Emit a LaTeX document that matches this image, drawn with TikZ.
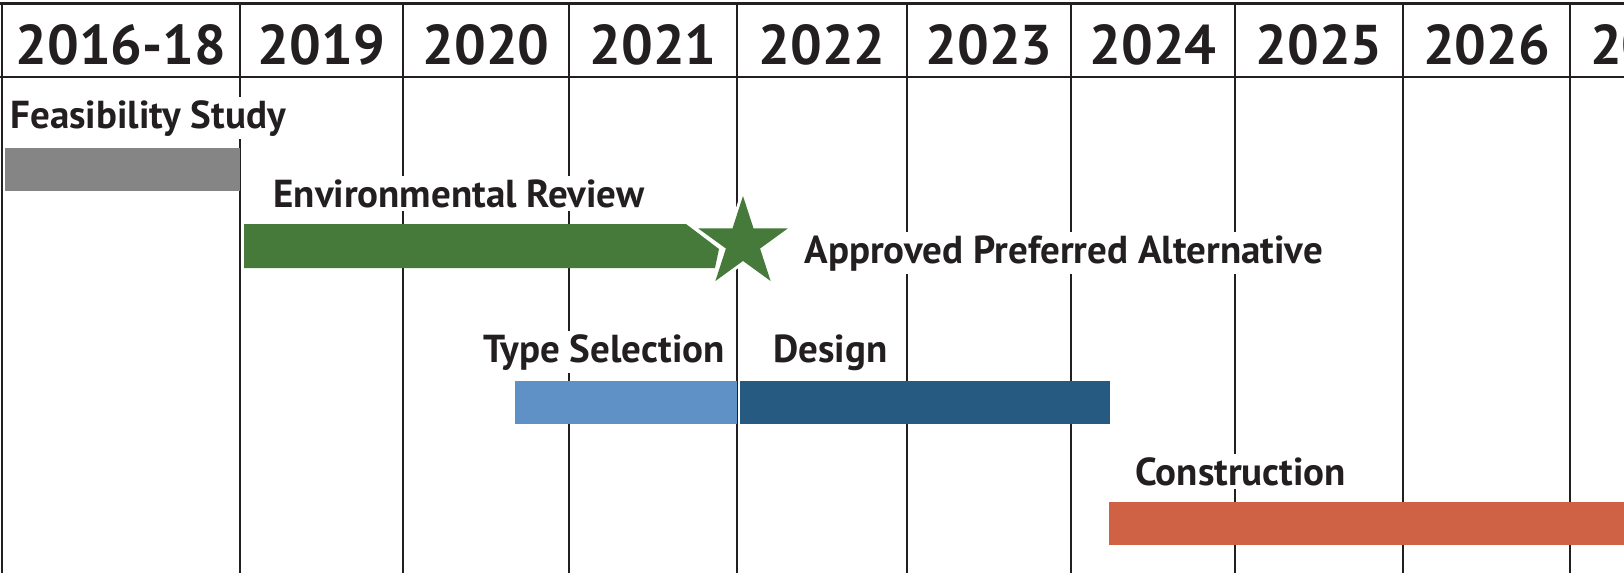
\documentclass[tikz,border=0pt]{standalone}
\usepackage{fontspec}
\setmainfont{PT Sans}
\usetikzlibrary{shapes.geometric}
\definecolor{inkline}{HTML}{231F20}
\definecolor{feasgray}{HTML}{858585}
\definecolor{envgreen}{HTML}{467A3B}
\definecolor{typeblue}{HTML}{5F91C6}
\definecolor{designblue}{HTML}{275A80}
\definecolor{buildorange}{HTML}{CF6245}

\begin{document}
\begin{tikzpicture}[x=0.5pt, y=-0.5pt,
    gridline/.style={draw=inkline, line width=1pt},
    year/.style={anchor=base, inner sep=0pt, text=inkline, font=\fontsize{28}{30}\selectfont\bfseries},
    phase/.style={anchor=base west, fill=white, inner sep=1.5pt, text=inkline, font=\fontsize{19.5}{22}\selectfont\bfseries},
    milestone/.style={star, star points=5, star point ratio=2.618, minimum size=47pt, inner sep=0pt,
        fill=envgreen, preaction={draw=white, line width=3pt, line join=round}}
]
\useasboundingbox[fill=white] (0,0) rectangle (1624,573);

% grid
\foreach \gx in {2,240,403,569,737,907,1071,1235,1403,1570}
    \draw[gridline] (\gx,3) -- (\gx,573);
\draw[gridline, line width=1.5pt] (0,3) -- (1624,3);
\draw[gridline, line width=1.25pt] (0,77) -- (1624,77);

% year headings
\foreach \xa/\xb/\yr in {2/240/2016-18, 240/403/2019, 403/569/2020, 569/737/2021, 737/907/2022,
        907/1071/2023, 1071/1235/2024, 1235/1403/2025, 1403/1570/2026, 1570/1737/2027}
    \node[year] (yr\yr) at ({(\xa+\xb)/2},64) {\yr};

% phase labels
\node[phase] (feas) at (7,128) {Feasibility Study};
\node[phase] (envrev) at (270,207) {Environmental Review};
\node[phase] (approved) at (801,263) {Approved Preferred Alternative};
\node[phase] (typesel) at (480,362) {Type Selection};
\node[phase] (design) at (770,362) {Design};
\node[phase] (constr) at (1132,485) {Construction};

% bars
\fill[feasgray] (5,148) rectangle (240,191);
\fill[envgreen] (244,224) -- (686,224) -- (719,249) -- (715,268) -- (244,268) -- cycle;
\fill[typeblue] (515,381) rectangle (737,424);
\fill[designblue] (740,381) rectangle (1110,424);
\fill[buildorange] (1109,502) rectangle (1624,545);

% milestone
\node[milestone] (star) at (743,243) {};
\end{tikzpicture}
\end{document}
